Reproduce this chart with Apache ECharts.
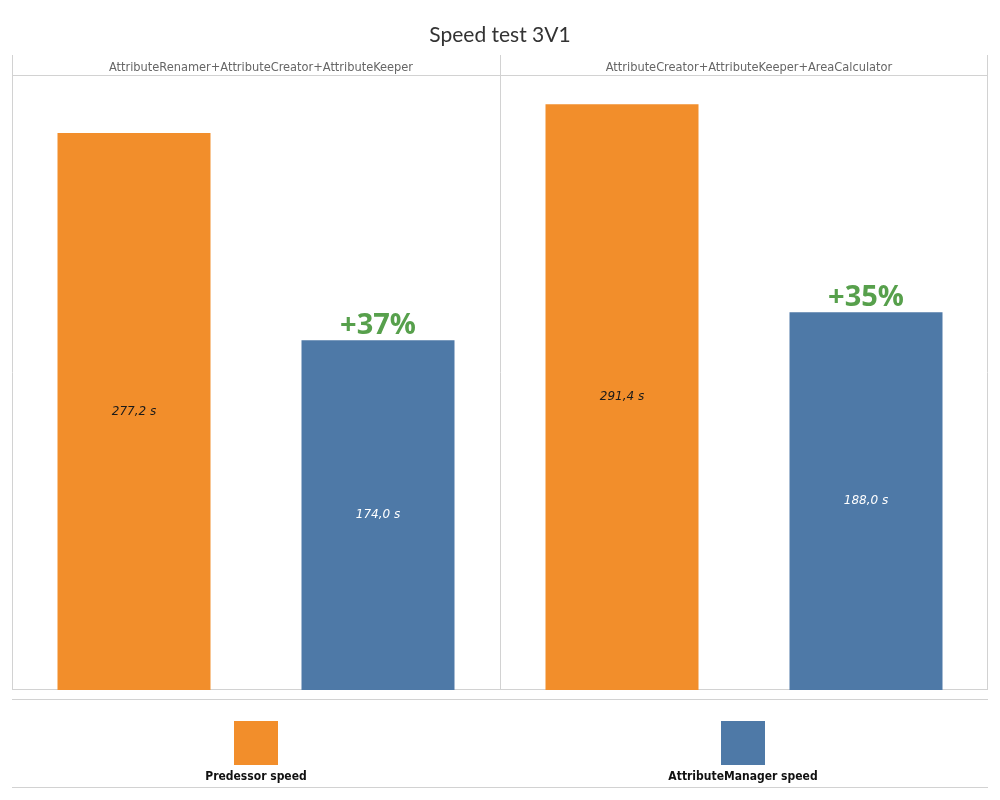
<!DOCTYPE html>
<html><head><meta charset="utf-8">
<script src="https://cdn.jsdelivr.net/npm/echarts@6/dist/echarts.min.js"></script>
<style>html,body{margin:0;padding:0;background:#fff}#c{width:1000px;height:800px}</style>
</head><body><div id="c"></div>
<script>
const titleText = 'Speed test 3V1';
const panels = ['AttributeRenamer+AttributeCreator+AttributeKeeper', 'AttributeCreator+AttributeKeeper+AreaCalculator'];
const seriesNames = ['Predessor speed', 'AttributeManager speed'];
const predessor = [277.2, 291.4];
const manager = [174.0, 188.0];
const gains = ['+37%', '+35%'];
const colors = ['#F28E2B', '#4E79A7'];
const green = '#57A04C';
const yMax = 306;

const chart = echarts.init(document.getElementById('c'));
const fmt = v => v.toFixed(1).replace('.', ',') + ' s';
const lineColor = '#d2d2d2';

const grids = [], xAxes = [], yAxes = [], series = [];
panels.forEach((p, i) => {
  grids.push({left: 12 + i * 488, width: 488, top: 75, height: 615, show: false});
  xAxes.push({type: 'category', gridIndex: i, data: seriesNames, show: false});
  yAxes.push({type: 'value', gridIndex: i, min: 0, max: yMax, show: false});
  series.push({
    name: seriesNames[0], type: 'bar', xAxisIndex: i, yAxisIndex: i, stack: 's' + i,
    barWidth: 153, itemStyle: {color: colors[0]},
    data: [predessor[i], '-'],
    label: {show: true, position: 'inside', formatter: d => fmt(d.value), color: '#1a1a1a', fontStyle: 'italic', fontSize: 12, fontFamily: 'DejaVu Sans'}
  });
  series.push({
    name: seriesNames[1], type: 'bar', xAxisIndex: i, yAxisIndex: i, stack: 's' + i,
    barWidth: 153, itemStyle: {color: colors[1]},
    data: ['-', manager[i]],
    label: {show: true, position: 'inside', formatter: d => fmt(d.value), color: '#ffffff', fontStyle: 'italic', fontSize: 12, fontFamily: 'DejaVu Sans'}
  });
  series.push({
    type: 'scatter', xAxisIndex: i, yAxisIndex: i, symbolSize: 0, silent: true,
    itemStyle: {opacity: 1},
    data: [['AttributeManager speed', manager[i]]],
    label: {show: true, position: 'top', distance: 0, formatter: gains[i], color: green, fontWeight: 'bold', fontSize: 29, fontFamily: 'Open Sans'}
  });
});

const line = (x1, y1, x2, y2) => ({type: 'line', shape: {x1, y1, x2, y2}, style: {stroke: lineColor, lineWidth: 1}, silent: true});
const graphics = [
  line(12.5, 55, 12.5, 690), line(500.5, 55, 500.5, 690), line(987.5, 55, 987.5, 690),
  line(12, 75.5, 988, 75.5), line(12, 689.5, 988, 689.5),
  line(12, 699.5, 988, 699.5), line(12, 787.5, 988, 787.5)
];
seriesNames.forEach((n, i) => {
  const cx = 256 + i * 487;
  graphics.push({type: 'rect', shape: {x: cx - 22, y: 721, width: 44, height: 44}, style: {fill: colors[i]}, silent: true});
  graphics.push({type: 'text', x: cx, y: 777, style: {text: n, fill: '#111', font: 'bold 12px "DejaVu Sans Condensed", "DejaVu Sans"', align: 'center', verticalAlign: 'middle'}, silent: true});
});

const titles = [{text: titleText, left: 'center', top: 20, textStyle: {fontFamily: 'Lato', fontWeight: 'normal', fontSize: 21, color: '#333'}}];
panels.forEach((p, i) => titles.push({text: p, left: 256 + i * 488, top: 56, textAlign: 'center', textStyle: {fontFamily: '"DejaVu Sans Condensed", "DejaVu Sans"', fontWeight: 'normal', fontSize: 12.7, color: '#666'}}));

chart.setOption({
  animation: false,
  title: titles,
  grid: grids, xAxis: xAxes, yAxis: yAxes, series,
  graphic: graphics
});
</script></body></html>
